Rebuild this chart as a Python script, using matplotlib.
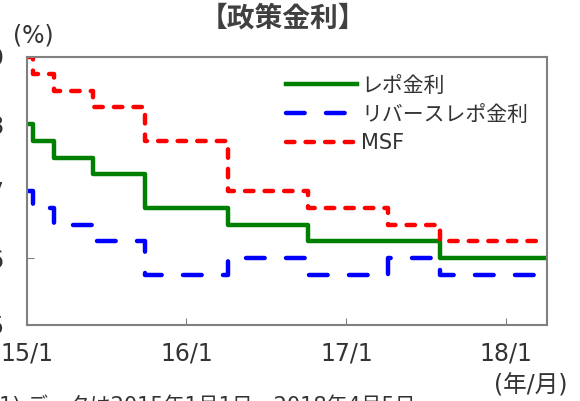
import numpy as np
import pandas as pd
import matplotlib
matplotlib.use("Agg")
import matplotlib.pyplot as plt
import matplotlib.dates as mdates

plt.rcParams['font.family'] = ['DejaVu Sans', 'Noto Sans CJK JP']

# =============================================================
# DATA (policy rate change dates, %)
# =============================================================

repo_dates = ["2015-01-01", "2015-01-15", "2015-03-04", "2015-06-02",
              "2015-09-29", "2016-04-05", "2016-10-04", "2017-08-02",
              "2018-04-05"]
repo_rate = [8.00, 7.75, 7.50, 7.25, 6.75, 6.50, 6.25, 6.00, 6.00]

rev_dates = ["2015-01-01", "2015-01-15", "2015-03-04", "2015-06-02",
             "2015-09-29", "2016-04-05", "2016-10-04", "2017-04-06",
             "2017-08-02", "2018-04-05"]
rev_rate = [7.00, 6.75, 6.50, 6.25, 5.75, 6.00, 5.75, 6.00, 5.75, 5.75]

msf_dates = ["2015-01-01", "2015-01-15", "2015-03-04", "2015-06-02",
             "2015-09-29", "2016-04-05", "2016-10-04", "2017-04-06",
             "2017-08-02", "2018-04-05"]
msf_rate = [9.00, 8.75, 8.50, 8.25, 7.75, 7.00, 6.75, 6.50, 6.25, 6.25]

x_ticks = ["2015-01-01", "2016-01-01", "2017-01-01", "2018-01-01"]
x_labels = ["15/1", "16/1", "17/1", "18/1"]
y_ticks = [5, 6, 7, 8, 9]

# =============================================================
# PLOTTING
# =============================================================

W, H = 580, 401
fig = plt.figure(figsize=(W / 100, H / 100), dpi=100)
ax = fig.add_axes([27 / W, 1 - 325 / H, (547 - 27) / W, (325 - 57) / H])

txt = "#333333"

ax.plot(pd.to_datetime(repo_dates), repo_rate, drawstyle="steps-post",
        color="#008000", linewidth=3.2, label="レポ金利")
ax.plot(pd.to_datetime(rev_dates), rev_rate, drawstyle="steps-post",
        color="#0000ff", linewidth=3.2, dashes=(4.2, 4.8),
        dash_capstyle="round", label="リバースレポ金利")
ax.plot(pd.to_datetime(msf_dates), msf_rate, drawstyle="steps-post",
        color="#ff0000", linewidth=3.2, dashes=(1.9, 2.5),
        dash_capstyle="round", label="MSF")

ax.set_xlim(pd.Timestamp("2015-01-01"), pd.Timestamp("2018-04-05"))
ax.set_ylim(5, 9)

ax.set_xticks(pd.to_datetime(x_ticks))
ax.set_xticklabels(x_labels)
ax.set_yticks(y_ticks)

ax.tick_params(direction="in", length=5, color="#808080",
               labelsize=17, labelcolor=txt)
ax.tick_params(axis="x", pad=12)
ax.tick_params(axis="y", pad=17)

for s in ax.spines.values():
    s.set_color("#808080")
    s.set_linewidth(1.5)

ax.legend(loc="upper right", bbox_to_anchor=(1.0, 1.0), frameon=False,
          fontsize=15, handlelength=3.4, handletextpad=0.2,
          labelspacing=0.42, labelcolor=txt)

fig.text(283 / W, 1 - 19 / H, "【政策金利】", ha="center", va="center",
         fontsize=20, fontweight="bold", color="#404040",
         family=["Noto Sans CJK JP"])
fig.text(13 / W, 1 - 35 / H, "(%)", ha="left", va="center",
         fontsize=17, color=txt)
fig.text(568 / W, 1 - 385 / H, "(年/月)", ha="right", va="center",
         fontsize=17, color=txt)
fig.text(-9 / W, 1 - 406 / H, "(1) データは2015年1月1日～2018年4月5日",
         ha="left", va="center", fontsize=15, color=txt)

fig.savefig("out.png", dpi=100)
